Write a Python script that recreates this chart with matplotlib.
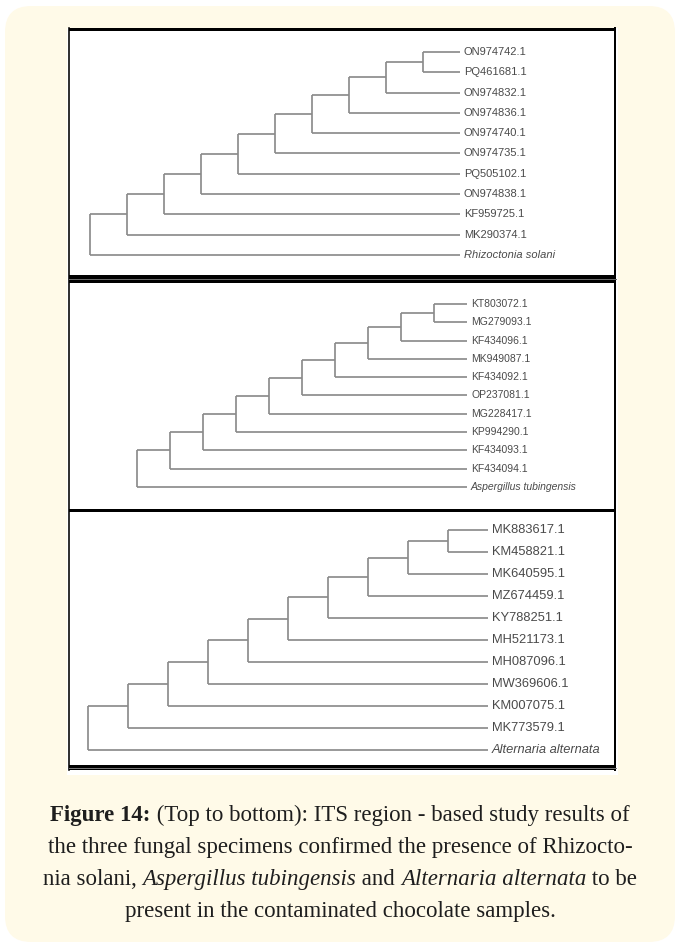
import matplotlib
matplotlib.use("Agg")
import matplotlib.pyplot as plt
from matplotlib.patches import FancyBboxPatch, Rectangle

W, H, DPI = 680, 947, 100

# trees (topology only)
tree_rhizoctonia = ("((((((((((ON974742.1,PQ461681.1),ON974832.1),ON974836.1),ON974740.1),"
                    "ON974735.1),PQ505102.1),ON974838.1),KF959725.1),MK290374.1),Rhizoctonia solani);")
tree_aspergillus = ("((((((((((KT803072.1,MG279093.1),KF434096.1),MK949087.1),KF434092.1),"
                    "OP237081.1),MG228417.1),KP994290.1),KF434093.1),KF434094.1),Aspergillus tubingensis);")
tree_alternaria = ("((((((((((MK883617.1,KM458821.1),MK640595.1),MZ674459.1),KY788251.1),"
                   "MH521173.1),MH087096.1),MW369606.1),KM007075.1),MK773579.1),Alternaria alternata);")
species = ["Rhizoctonia solani", "Aspergillus tubingensis", "Alternaria alternata"]

caption_lines = [
    [("Figure 14:", "bold", "normal"), (" (Top to bottom): ITS region - based study results of", "normal", "normal")],
    [("the three fungal specimens confirmed the presence of Rhizocto-", "normal", "normal")],
    [("nia solani, ", "normal", "normal"), ("Aspergillus tubingensis", "normal", "italic"),
     (" and ", "normal", "normal"), ("Alternaria alternata", "normal", "italic"), (" to be", "normal", "normal")],
    [("present in the contaminated chocolate samples.", "normal", "normal")],
]


def parse_newick(s):
    s = s.strip().rstrip(";")
    pos = 0

    def node():
        nonlocal pos
        if s[pos] == "(":
            pos += 1
            kids = [node()]
            while s[pos] == ",":
                pos += 1
                kids.append(node())
            pos += 1
            return kids
        start = pos
        while pos < len(s) and s[pos] not in ",()":
            pos += 1
        return s[start:pos]

    return node()


def max_depth(t, d=0):
    if isinstance(t, str):
        return d
    return max(max_depth(c, d + 1) for c in t)


def draw_tree(ax, tree, color, lw, fs):
    tip = max_depth(tree)
    leaves = []

    def walk(t, d):
        if isinstance(t, str):
            leaves.append(t)
            return tip, len(leaves) - 1
        pts = [walk(c, d + 1) for c in t]
        ys = [p[1] for p in pts]
        ax.plot([d, d], [min(ys), max(ys)], color=color, lw=lw, solid_capstyle="butt")
        for x, y in pts:
            ax.plot([d, x], [y, y], color=color, lw=lw, solid_capstyle="butt")
        return d, (min(ys) + max(ys)) / 2

    walk(tree, 0)
    for i, name in enumerate(leaves):
        ax.annotate(name, (tip, i), xytext=(4, 0), textcoords="offset pixels",
                    va="center", ha="left", fontsize=fs, color="#4a4a4a",
                    family="Liberation Sans",
                    style="italic" if name in species else "normal")


fig = plt.figure(figsize=(W / DPI, H / DPI), dpi=DPI)
fig.patch.set_facecolor("white")

bg = fig.add_axes([0, 0, 1, 1])
bg.set_xlim(0, W)
bg.set_ylim(H, 0)
bg.axis("off")

bg.add_patch(FancyBboxPatch((5, 6), 670, 936, boxstyle="round,pad=0,rounding_size=26",
                            facecolor="#fffae8", edgecolor="none"))
fx0, fx1, fy0, fy1 = 69, 616, 28, 770
bg.add_patch(Rectangle((fx0 - 2, fy0), fx1 - fx0 + 4, fy1 - fy0 + 5, facecolor="white", edgecolor="none"))

px = 0.72  # points per pixel at 100 dpi
bg.plot([fx0, fx0], [fy0, fy1], color="black", lw=1.6 * px)
bg.plot([fx1 - 1, fx1 - 1], [fy0, fy1], color="black", lw=2 * px)
bg.add_patch(Rectangle((fx0, 28), fx1 - fx0, 3, facecolor="black", edgecolor="none"))
bg.add_patch(Rectangle((fx0, 275), fx1 - fx0, 8, facecolor="black", edgecolor="none"))
bg.plot([fx0, fx1], [279, 279], color="#6a6a6a", lw=1 * px)
bg.add_patch(Rectangle((fx0, 509), fx1 - fx0, 3, facecolor="black", edgecolor="none"))
bg.add_patch(Rectangle((fx0, 765), fx1 - fx0, 5, facecolor="black", edgecolor="none"))
bg.plot([fx0, fx1], [767.5, 767.5], color="#777777", lw=1 * px)

# panel boxes: (tree, top px, bottom px, root x px, depth step px, first leaf y px, leaf spacing px, font size)
panels = [
    (tree_rhizoctonia, 31, 275, 90, 37, 52, 20.3, 8.0),
    (tree_aspergillus, 283, 509, 137, 33, 304, 18.3, 7.5),
    (tree_alternaria, 512, 765, 88, 40, 530, 22.0, 9.3),
]
for newick, top, bot, root, step, leaf0, dy, fs in panels:
    ax = fig.add_axes([fx0 / W, 1 - bot / H, (fx1 - fx0) / W, (bot - top) / H])
    ax.set_xlim((fx0 - root) / step, (fx1 - root) / step)
    ax.set_ylim((bot - leaf0) / dy, (top - leaf0) / dy)
    ax.axis("off")
    draw_tree(ax, parse_newick(newick), "#8a8a8a", 1.7 * px, fs)

# caption, centred line by line with mixed styles
renderer = fig.canvas.get_renderer()
cap_fs = 16.5


def text_width(s, weight, style):
    t1 = fig.text(0, 0, "|" + s + "|", fontsize=cap_fs, family="Liberation Serif",
                  weight=weight, style=style)
    t2 = fig.text(0, 0, "||", fontsize=cap_fs, family="Liberation Serif",
                  weight=weight, style=style)
    w = t1.get_window_extent(renderer).width - t2.get_window_extent(renderer).width
    t1.remove()
    t2.remove()
    return w


baselines = [821, 853, 885, 917]
for segs, yb in zip(caption_lines, baselines):
    widths = [text_width(s, w, st) for s, w, st in segs]
    x = W / 2 - sum(widths) / 2
    for (s, w, st), wd in zip(segs, widths):
        fig.text(x / W, 1 - yb / H, s, fontsize=cap_fs,
                 family="Liberation Serif", weight=w, style=st, color="#1e1e1e",
                 ha="left", va="baseline")
        x += wd

fig.savefig("out.png", dpi=DPI, facecolor="white")
